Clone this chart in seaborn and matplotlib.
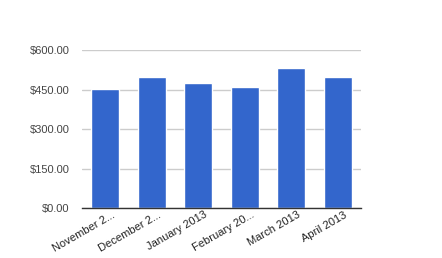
import matplotlib
matplotlib.use("Agg")
import matplotlib.pyplot as plt
import matplotlib.transforms as mtransforms
import seaborn as sns
import pandas as pd

months = ["November 2...", "December 2...", "January 2013", "February 20...", "March 2013", "April 2013"]
values = [452, 498, 475, 460, 532, 498]
yticks = [0, 150, 300, 450, 600]

sns.set_style("white")
plt.rcParams['font.family'] = ['Liberation Sans', 'DejaVu Sans']

df = pd.DataFrame({"month": months, "value": values})
fig = plt.figure(figsize=(4.42, 2.58), dpi=100)
ax = fig.add_axes([82/442, 1-208.3/258, (361-82)/442, (208.3-50)/258])
sns.barplot(data=df, x="month", y="value", color="#3366CC", saturation=1, width=0.6, ax=ax)
ax.set_ylim(0, 600)
ax.set_xlim(-0.5, 5.5)
ax.set_yticks(yticks)
ax.set_yticklabels([f"${v:.2f}" for v in yticks], color="#444444", fontsize=8)
ax.yaxis.grid(True, color="#CCCCCC", linewidth=1)
ax.set_axisbelow(True)
for s in ["top", "right", "left"]:
    ax.spines[s].set_visible(False)
ax.spines["bottom"].set_color("#333333")
ax.spines["bottom"].set_linewidth(1)
ax.tick_params(axis="y", length=0, pad=9)
ax.set_xticks(range(len(months)))
ax.set_xticklabels(months, rotation=30, ha="right", va="top", rotation_mode="anchor",
                   color="#222222", fontsize=8)
ax.tick_params(axis="x", length=0, pad=1)
offset = mtransforms.ScaledTranslation(6/100, 0, fig.dpi_scale_trans)
for lbl in ax.get_xticklabels():
    lbl.set_transform(lbl.get_transform() + offset)
ax.set_xlabel("")
ax.set_ylabel("")
fig.savefig("out.png", dpi=100)
